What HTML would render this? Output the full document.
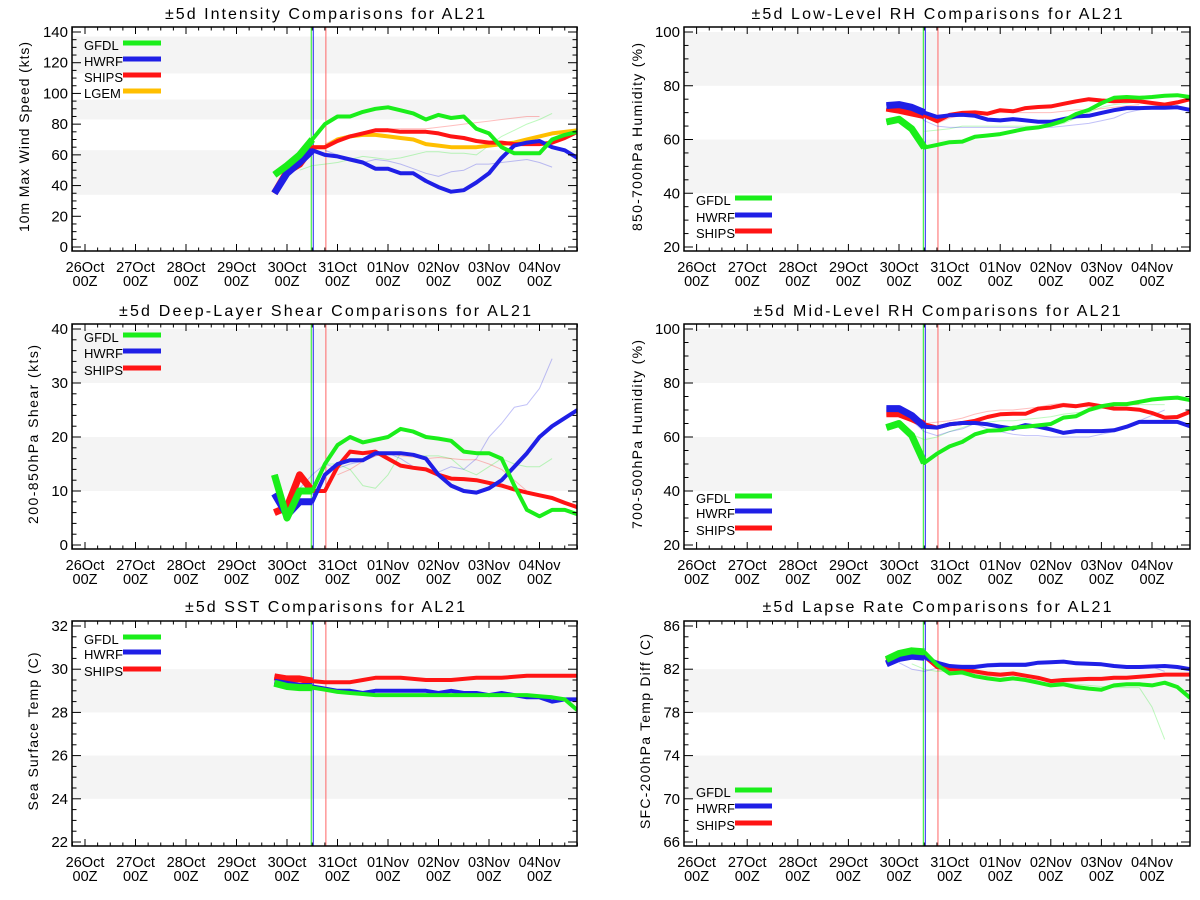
<!DOCTYPE html>
<html><head><meta charset="utf-8">
<style>
html,body{margin:0;padding:0;background:#fff;}
svg{display:block;font-family:"Liberation Sans","DejaVu Sans",sans-serif;}
</style></head>
<body>
<svg id="chart" width="1200" height="900" viewBox="0 0 1200 900" xmlns="http://www.w3.org/2000/svg"></svg>
<script>
// ---- shared time axis (days after 26Oct 00Z) ----
const times = [3.75,4,4.25,4.5,4.75,5,5.25,5.5,5.75,6,6.25,6.5,6.75,7,7.25,7.5,7.75,8,8.25,8.5,8.75,9,9.25,9.5,9.75];
const dayLabels = ["26Oct","27Oct","28Oct","29Oct","30Oct","31Oct","01Nov","02Nov","03Nov","04Nov"];
const initLines = [4.48, 4.52, 4.77];

// ---- Intensity ----
const intGFDL = [47,53,60,70,80,85,85,88,90,91,89,87,83,86,84,85,77,74,65,61,61,61,70,73,75];
const intHWRF = [35,48,55,63,60,59,57,55,51,51,48,48,43,39,36,37,42,48,58,66,68,69,65,63,58];
const intSHIPS = [35,49,54,65,65,69,72,74,76,76,75,75,75,74,72,71,69,68,68,67,67,67,68,71,75];
const intLGEM = [null,null,null,65,65,70,72,73,73,72,71,70,67,66,65,65,65,66,67,68,70,72,74,75,76];
const intThinG = [null,null,50,53,54,55,57,59,58,57,58,60,62,62,61,61,60,66,72,76,80,83,87,null,null];
const intThinB = [null,null,null,null,63,60,57,55,57,56,54,51,48,46,49,50,54,54,55,56,57,55,52,null,null];
const intThinR = [null,null,null,null,67,71,73,75,76,77,77,77,77,78,79,80,81,82,83,84,85,85,null,null,null];
const intTicks = [0,20,40,60,80,100,120,140];
const intBands = [[34,63],[83,96],[113,137]];

// ---- Low-level RH ----
const loGFDL = [66.5,67.5,64,57,58,59,59.2,61,61.5,62,63,64,64.5,65.5,67,69.5,71,73.5,75.5,75.8,75.5,75.8,76.3,76.5,75.8];
const loHWRF = [72.6,73,72,70,68.4,69,69.2,68.8,67.4,67.1,67.6,67.1,66.6,66.6,67.6,68.6,68.8,69.9,70.9,71.7,71.7,71.8,71.8,72,71];
const loSHIPS = [71.7,70.9,69.9,68.9,66.8,69.2,69.9,70.1,69.6,70.9,70.5,71.7,72.1,72.3,73.3,74.2,75,74.5,74.2,74.4,74.2,73.6,73,73.8,75];
const loThinG = [null,null,null,63,63.5,64,65,65,65,65,65,65,65,65,66,68,70,72,73,73.5,74,74,null,null,null];
const loThinB = [null,73.5,72,67,65,64.5,64.5,64.5,64.5,64.5,64.5,64.5,64.5,64.5,65,65.5,66,67,68,70,71,72,73,null,null];
const loThinR = [null,null,null,null,66,68,69,69.5,70,70,70,70,70,70,70.5,71,71,71.5,72,72.5,73,null,null,null,null];
const rhTicks = [20,40,60,80,100];
const rhBands = [[40,60],[80,100]];

// ---- Shear ----
const shGFDL = [13,5,10,10,15,18.5,20,19,19.5,20,21.5,21,20,19.7,19.3,17.3,17,17,16,11,6.5,5.3,6.5,6.5,5.7];
const shHWRF = [9.5,5.5,8,8,13,15,15.7,15.7,17,17,17,16.7,16,13,11,10,9.7,10.5,12,14.5,17,20,22,23.5,25];
const shSHIPS = [6,7,13,10,10,14.5,17.3,17,17.3,16,14.7,14.3,14,13,12.3,12.2,12,11.5,11,10.3,9.7,9.2,8.7,7.8,7];
const shThinG = [null,null,null,null,15,15,14,11,10.5,13,17,16.5,16.5,16.5,16,14,13,14.5,16,15,14.5,14.5,16,null,null];
const shThinB = [null,null,10.5,13,15,14.2,15,15.5,16.5,17,16,14.5,14,13.5,14.5,14,16,20,22.5,25.5,26,29,34.5,null,null];
const shThinR = [null,null,null,null,null,13,14,15.5,16.5,17,16.5,16.3,16,16.2,16,15.8,15.8,15,14,12,10,null,null,null,null];
const shTicks = [0,10,20,30,40];
const shBands = [[10,20],[30,40]];

// ---- Mid-level RH ----
const midGFDL = [63.5,65,60.6,50.4,53.8,56.5,58.2,61,62.3,62.5,63.4,63.8,64.3,64.8,67.2,67.7,70,71.4,72.2,72.2,73,73.9,74.3,74.6,73.7];
const midHWRF = [70.5,70.5,68,63.8,63.5,64.7,65.2,65.2,64.7,63.8,63.1,64.4,63.8,62.8,61.5,62.2,62.2,62.2,62.5,63.8,65.6,65.6,65.6,65.6,64];
const midSHIPS = [68.6,68.6,66.8,64.7,63.5,64.7,65.2,66,67.4,68.4,68.6,68.6,70.5,70.9,71.8,71.4,72.2,71.4,70.5,70.5,70.1,68.9,67.2,67.4,69.3];
const midThinG = [null,null,61,59,60,62,63.5,65,65.5,66,66,66.5,67,67.5,68.5,69,69.5,70.5,71.5,72,72,72,72,null,null];
const midThinB = [null,70,66,62,60.5,62,63,65,63,62,61,60.5,60.5,60,60,60,60,61,62,64,66,68,70,null,null];
const midThinR = [null,null,null,65,65.5,66,67,68.5,69.5,70,70,70.5,71,72,72.5,72,71,71,71.5,72,72,null,null,null,null];

// ---- SST ----
const sstGFDL = [29.35,29.2,29.15,29.15,29.05,28.95,28.9,28.85,28.8,28.8,28.8,28.8,28.8,28.8,28.8,28.8,28.8,28.8,28.8,28.8,28.8,28.75,28.7,28.6,28.1];
const sstHWRF = [29.4,29.3,29.2,29.2,29.1,29,29,28.9,29,29,29,29,29,28.9,29,28.9,28.9,28.8,28.9,28.8,28.7,28.7,28.5,28.6,28.6];
const sstSHIPS = [29.65,29.55,29.55,29.45,29.4,29.4,29.4,29.5,29.6,29.6,29.6,29.55,29.5,29.5,29.5,29.55,29.6,29.6,29.6,29.65,29.7,29.7,29.7,29.7,29.7];
const sstTicks = [22,24,26,28,30,32];
const sstBands = [[24,26],[28,30]];

// ---- Lapse rate ----
const lrGFDL = [82.9,83.45,83.7,83.6,82.4,81.6,81.7,81.35,81.15,81,81.15,81,80.75,80.5,80.6,80.35,80.2,80.1,80.5,80.6,80.6,80.5,80.75,80.35,79.35];
const lrHWRF = [82.5,83.0,83.2,83.1,82.6,82.3,82.2,82.2,82.35,82.4,82.4,82.4,82.6,82.65,82.7,82.55,82.5,82.45,82.3,82.2,82.2,82.25,82.3,82.2,82.0];
const lrSHIPS = [82.8,83.2,83.4,83.2,82.2,82.0,82.0,81.8,81.6,81.5,81.6,81.4,81.2,80.9,81.0,81.05,81.1,81.1,81.2,81.2,81.3,81.4,81.5,81.5,81.5];
const lrThinG = [null,null,82.5,82,81.8,81.8,81.5,81.3,81.1,81,81,80.9,80.8,80.7,80.8,80.6,80.5,80.4,80.3,80.3,80.3,78.5,75.5,null,null];
const lrThinB = [null,82.6,82,81.8,82.1,82.3,82.4,82.4,82.5,82.6,82.6,82.6,82.7,82.7,82.8,82.7,82.6,82.5,82.4,82.3,82.3,82.2,81.8,null,null];
const lrThinR = [null,null,null,null,81.9,81.9,81.8,81.6,81.4,81.3,81.2,81.1,81,81,81.1,81.1,81.2,81.2,81.3,81.3,81.4,null,null,null,null];
const lrTicks = [66,70,74,78,82,86];
const lrBands = [[70,74],[78,82]];

const NS = "http://www.w3.org/2000/svg";
const svg = document.getElementById("chart");
const COL = {GFDL:"#1aee1a", HWRF:"#1f1fe6", SHIPS:"#ff1414", LGEM:"#ffbf00"};

function mk(tag, attrs, parent) {
  const e = document.createElementNS(NS, tag);
  for (const k in attrs) e.setAttribute(k, attrs[k]);
  parent.appendChild(e);
  return e;
}

const panels = [
  {key:"intensity", left:true, row:0, t:27, b:251, title:"±5d Intensity Comparisons for AL21", tw:320, yt:"10m Max Wind Speed (kts)", ytw:190,
   ticks:intTicks, minor:5, bands:intBands, series:[["GFDL",intGFDL],["HWRF",intHWRF],["SHIPS",intSHIPS],["LGEM",intLGEM]],
   thin:[["GFDL",intThinG],["HWRF",intThinB],["SHIPS",intThinR]], legY:[45,61,77,93]},
  {key:"low-rh", left:false, row:0, t:27, b:251, title:"±5d Low-Level RH Comparisons for AL21", tw:371, yt:"850-700hPa Humidity (%)", ytw:188,
   ticks:rhTicks, minor:5, bands:rhBands, series:[["GFDL",loGFDL],["HWRF",loHWRF],["SHIPS",loSHIPS]],
   thin:[["GFDL",loThinG],["HWRF",loThinB],["SHIPS",loThinR]], legY:[200,217,233]},
  {key:"shear", left:true, row:1, t:324, b:549, title:"±5d Deep-Layer Shear Comparisons for AL21", tw:412, yt:"200-850hPa Shear (kts)", ytw:179,
   ticks:shTicks, minor:2, bands:shBands, series:[["GFDL",shGFDL],["HWRF",shHWRF],["SHIPS",shSHIPS]],
   thin:[["GFDL",shThinG],["HWRF",shThinB],["SHIPS",shThinR]], legY:[337,353,370]},
  {key:"mid-rh", left:false, row:1, t:324, b:549, title:"±5d Mid-Level RH Comparisons for AL21", tw:367, yt:"700-500hPa Humidity (%)", ytw:189,
   ticks:rhTicks, minor:5, bands:rhBands, series:[["GFDL",midGFDL],["HWRF",midHWRF],["SHIPS",midSHIPS]],
   thin:[["GFDL",midThinG],["HWRF",midThinB],["SHIPS",midThinR]], legY:[498,513,530]},
  {key:"sst", left:true, row:2, t:621, b:846, title:"±5d SST Comparisons for AL21", tw:280, yt:"Sea Surface Temp (C)", ytw:158,
   ticks:sstTicks, minor:0.5, bands:sstBands, series:[["GFDL",sstGFDL],["HWRF",sstHWRF],["SHIPS",sstSHIPS]],
   thin:[], legY:[639,654,671]},
  {key:"lapse-rate", left:false, row:2, t:621, b:846, title:"±5d Lapse Rate Comparisons for AL21", tw:349, yt:"SFC-200hPa Temp Diff (C)", ytw:195,
   ticks:lrTicks, minor:1, bands:lrBands, series:[["GFDL",lrGFDL],["HWRF",lrHWRF],["SHIPS",lrSHIPS]],
   thin:[["GFDL",lrThinG],["HWRF",lrThinB],["SHIPS",lrThinR]], legY:[792,808,825]}
];
const titleY = [19, 316, 612];

panels.forEach(p => {
  const L = p.left ? 72 : 684, R = p.left ? 577 : 1190;
  const x0 = p.left ? 85 : 696.6, dw = p.left ? 50.5 : 50.6;
  const ymin = p.ticks[0], ymax = p.ticks[p.ticks.length-1];
  const yTop = p.t + 5, yBot = p.b - 4;
  const X = d => x0 + d*dw;
  const Y = v => yBot - (v - ymin)/(ymax - ymin)*(yBot - yTop);

  const g = mk("g", {}, svg);
  
  

  const clipId = "clip-" + p.key;
  const cp = mk("clipPath", {id: clipId}, g);
  mk("rect", {x:L, y:p.t, width:R-L, height:p.b-p.t}, cp);

  p.bands.forEach((bd, i) => {
    const y1 = Math.max(Y(bd[1]), p.t), y2 = Math.min(Y(bd[0]), p.b);
    const r = mk("rect", {x:L, y:y1, width:R-L, height:y2-y1, fill:"#f4f4f4"}, g);
    
    
  });

  const vcols = ["#22ee22", "#2222ee", "#ff6666"];
  initLines.forEach((d, i) => {
    const ln = mk("line", {x1:X(d), x2:X(d), y1:p.t, y2:p.b, stroke:vcols[i], "stroke-width":1}, g);
    
    
  });

  const plot = mk("g", {"clip-path":"url(#"+clipId+")"}, g);

  p.thin.forEach(([name, arr]) => {
    let d = "", pen = false;
    arr.forEach((v, i) => {
      if (v === null) { pen = false; return; }
      d += (pen ? "L" : "M") + X(times[i]).toFixed(1) + " " + Y(v).toFixed(1) + " ";
      pen = true;
    });
    const pa = mk("path", {d:d, fill:"none", stroke:COL[name], "stroke-width":1, "stroke-opacity":0.28, "stroke-linejoin":"round"}, plot);
    
    
  });

  p.series.slice().reverse().forEach(([name, arr]) => {
    let d = "", pen = false, dh = "", penH = false;
    arr.forEach((v, i) => {
      if (v === null) { pen = false; penH = false; return; }
      const pt = X(times[i]).toFixed(1) + " " + Y(v).toFixed(1) + " ";
      d += (pen ? "L" : "M") + pt; pen = true;
      if (i <= 3) { dh += (penH ? "L" : "M") + pt; penH = true; }
    });
    const pa = mk("path", {d:d, fill:"none", stroke:COL[name], "stroke-width":4, "stroke-linejoin":"round"}, plot);
    
    
    if (dh.indexOf("L") >= 0) {
      const ph = mk("path", {d:dh, fill:"none", stroke:COL[name], "stroke-width":7, "stroke-linejoin":"round"}, plot);
      
      
    }
  });

  const fr = mk("rect", {x:L, y:p.t, width:R-L, height:p.b-p.t, fill:"none", stroke:"#000", "stroke-width":1.5}, g);
  
  

  for (let h = -0.25; h <= 9.76; h += 0.25) {
    const major = Math.abs(h - Math.round(h)) < 1e-6;
    const len = major ? 7 : 3.5;
    const x = X(h);
    mk("line", {x1:x, x2:x, y1:p.b, y2:p.b-len, stroke:"#000", "stroke-width":1}, g);
    mk("line", {x1:x, x2:x, y1:p.t, y2:p.t+len, stroke:"#000", "stroke-width":1}, g);
  }
  dayLabels.forEach((lab, i) => {
    const t1 = mk("text", {x:X(i), y:p.b+21, "font-size":14.5, "text-anchor":"middle", fill:"#000"}, g);
    t1.textContent = lab;
    
    
    const t2 = mk("text", {x:X(i), y:p.b+35, "font-size":14.5, "text-anchor":"middle", fill:"#000"}, g);
    t2.textContent = "00Z";
    
    
  });

  for (let v = ymin - p.minor*2; v <= ymax + p.minor*2 + 1e-9; v += p.minor) {
    const y = Y(v);
    if (y < p.t || y > p.b) continue;
    const step = p.ticks[1] - p.ticks[0];
    const major = Math.abs((v - ymin)/step - Math.round((v - ymin)/step)) < 1e-6;
    const len = major ? 9 : 4.5;
    mk("line", {x1:L, x2:L+len, y1:y, y2:y, stroke:"#000", "stroke-width":1}, g);
    mk("line", {x1:R, x2:R-len, y1:y, y2:y, stroke:"#000", "stroke-width":1}, g);
  }
  p.ticks.forEach(v => {
    const t = mk("text", {x:L-4, y:Y(v)+5, "font-size":15, "text-anchor":"end", fill:"#000"}, g);
    t.textContent = v;
    
    
  });

  const tt = mk("text", {x:p.left ? 325 : 937, y:titleY[p.row], "font-size":16, "text-anchor":"middle", textLength:p.tw, lengthAdjust:"spacing", fill:"#000"}, g);
  tt.textContent = p.title;
  
  

  const ytx = p.left ? (p.row === 0 ? 29 : 38) : (p.row === 2 ? 650 : 642);
  const ytc = (p.t + p.b)/2 - 2;
  const yl = mk("text", {x:ytx, y:ytc, "font-size":14, "text-anchor":"middle", textLength:p.ytw, lengthAdjust:"spacing", transform:"rotate(-90 "+ytx+" "+ytc+")", fill:"#000"}, g);
  yl.textContent = p.yt;
  
  

  const lx = p.left ? 84 : 696, lx1 = p.left ? 123 : 735, lx2 = p.left ? 161 : 772;
  p.series.forEach(([name], i) => {
    const ly = p.legY[i];
    const lg = mk("g", {}, g);
    
    
    const lt = mk("text", {x:lx, y:ly+5, "font-size":13, fill:"#000"}, lg);
    lt.textContent = name;
    mk("line", {x1:lx1, x2:lx2, y1:ly-2, y2:ly-2, stroke:COL[name], "stroke-width":5}, lg);
  });
});
</script>
</body></html>
